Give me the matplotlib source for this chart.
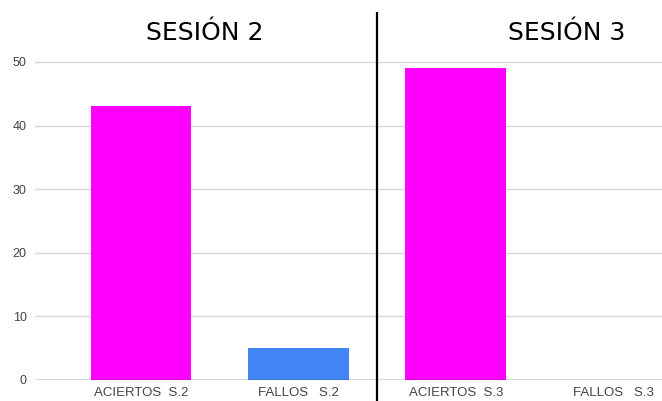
import matplotlib
matplotlib.use("Agg")
import matplotlib.pyplot as plt
from matplotlib.lines import Line2D

categories = ["ACIERTOS  S.2", "FALLOS   S.2", "ACIERTOS  S.3", "FALLOS   S.3"]
values = [43, 5, 49, 0]
bar_colors = ["#ff00ff", "#4285f4", "#ff00ff", "#4285f4"]
session_titles = ["SESIÓN 2", "SESIÓN 3"]

fig = plt.figure(figsize=(6.62, 4.01), dpi=100)
ax = fig.add_axes([35 / 662, 21 / 401, 627 / 662, 367 / 401])

x = list(range(len(categories)))
ax.bar(x, values, width=0.64, color=bar_colors, zorder=3)

ax.set_xlim(-0.674, 3.31)
ax.set_ylim(0, 57.7)
ax.set_yticks([0, 10, 20, 30, 40, 50])
ax.set_xticks(x)
ax.set_xticklabels(categories)
ax.tick_params(length=0, labelsize=9.5, colors="#444444", labelfontfamily="Liberation Sans")
ax.tick_params(axis="y", pad=6, labelsize=9)
ax.tick_params(axis="x", pad=5)

for v in [10, 20, 30, 40, 50]:
    ax.axhline(v, color="#d9d9d9", lw=1, zorder=1)
ax.axhline(0, color="#333333", lw=1, zorder=4)

for s in ax.spines.values():
    s.set_visible(False)

# separator between sessions
fig.add_artist(Line2D([377 / 662, 377 / 662], [0, (401 - 13) / 401], color="black", lw=1.6))

fig.text(205 / 662, 1 - 39.5 / 401, session_titles[0], ha="center", va="baseline", fontsize=18, family="DejaVu Sans")
fig.text(567 / 662, 1 - 39.5 / 401, session_titles[1], ha="center", va="baseline", fontsize=18, family="DejaVu Sans")

fig.savefig("out.png", dpi=100)
